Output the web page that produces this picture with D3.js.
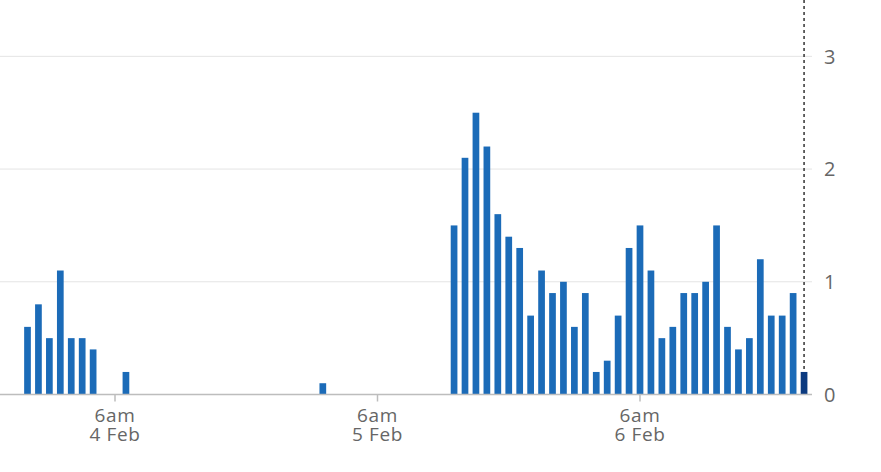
<!DOCTYPE html>
<html>
<head>
<meta charset="utf-8">
<script src="https://cdn.jsdelivr.net/npm/d3@7"></script>
<style>
  html, body { margin: 0; padding: 0; background: #fff; }
  svg { display: block; }
  text { font-family: "Open Sans", Lato, sans-serif; }
</style>
</head>
<body>
<svg id="chart" width="881" height="472"></svg>
<script>
// ---- data ----
const startHour = "2025-02-03T22:00:00"; // first hourly bar
const values = [
  0.6, 0.8,
  0.5, 1.1, 0.5, 0.5, 0.4, 0, 0, 0.2, 0, 0, 0, 0, 0, 0, 0, 0, 0, 0, 0, 0, 0, 0, 0, 0,
  0, 0.1, 0, 0, 0, 0, 0, 0, 0, 0, 0, 0, 0, 1.5, 2.1, 2.5, 2.2, 1.6, 1.4, 1.3, 0.7, 1.1, 0.9, 1.0,
  0.6, 0.9, 0.2, 0.3, 0.7, 1.3, 1.5, 1.1, 0.5, 0.6, 0.9, 0.9, 1.0, 1.5, 0.6, 0.4, 0.5, 1.2, 0.7, 0.7, 0.9, 0.2
];
const xTickDates = ["2025-02-04T06:00:00", "2025-02-05T06:00:00", "2025-02-06T06:00:00"];
const xTickLine1 = ["6am", "6am", "6am"];
const xTickLine2 = ["4 Feb", "5 Feb", "6 Feb"];
const yTicks = [0, 1, 2, 3];

// ---- build ----
const svg = d3.select("#chart");
const t0 = new Date(startHour);
const bars = values.map((v, i) => ({ t: d3.timeHour.offset(t0, i), v }));
const last = bars.length - 1;

const x = d3.scaleTime()
  .domain([new Date(xTickDates[0]), new Date(xTickDates[2])])
  .range([115, 640]);
const y = d3.scaleLinear().domain([0, 3.5]).range([394.5, 0]);

const plotLeft = 0, plotRight = 812;
const barW = 6.7;

// gridlines
svg.append("g").selectAll("line").data(yTicks.filter(d => d > 0)).join("line")
  .attr("x1", plotLeft).attr("x2", plotRight)
  .attr("y1", d => y(d)).attr("y2", d => y(d))
  .attr("stroke", "#e4e4e4").attr("stroke-width", 1);

// bars
svg.append("g").selectAll("rect").data(bars.filter(d => d.v > 0)).join("rect")
  .attr("x", d => x(d.t) - barW / 2)
  .attr("width", barW)
  .attr("y", d => y(d.v))
  .attr("height", d => y(0) - y(d.v))
  .attr("fill", d => d === bars[last] ? "#0b3a80" : "#1b6bb8");

// baseline axis
svg.append("line")
  .attr("x1", plotLeft).attr("x2", plotRight)
  .attr("y1", y(0)).attr("y2", y(0))
  .attr("stroke", "#bdbdbd").attr("stroke-width", 1.5);

// dashed "now" line
svg.append("line")
  .attr("x1", x(bars[last].t)).attr("x2", x(bars[last].t))
  .attr("y1", 0).attr("y2", y(bars[last].v))
  .attr("stroke", "#333").attr("stroke-width", 1.5)
  .attr("stroke-dasharray", "3,3");

// x ticks
const xg = svg.append("g");
xTickDates.forEach((s, i) => {
  const xx = x(new Date(s));
  xg.append("line").attr("x1", xx).attr("x2", xx)
    .attr("y1", y(0)).attr("y2", y(0) + 7)
    .attr("stroke", "#bdbdbd").attr("stroke-width", 1.5);
  const t = xg.append("text").attr("x", xx).attr("y", 421.5)
    .attr("text-anchor", "middle").attr("font-size", 19).attr("fill", "#666")
    .attr("letter-spacing", "0.6px");
  t.append("tspan").attr("x", xx).attr("y", 421.5).text(xTickLine1[i]);
  t.append("tspan").attr("x", xx).attr("y", 440.5).text(xTickLine2[i]);
});

// y labels
svg.append("g").selectAll("text").data(yTicks).join("text")
  .attr("x", 824).attr("y", d => y(d))
  .attr("dy", "0.36em")
  .attr("font-size", 20).attr("fill", "#666")
  .text(d => d);
</script>
</body>
</html>
